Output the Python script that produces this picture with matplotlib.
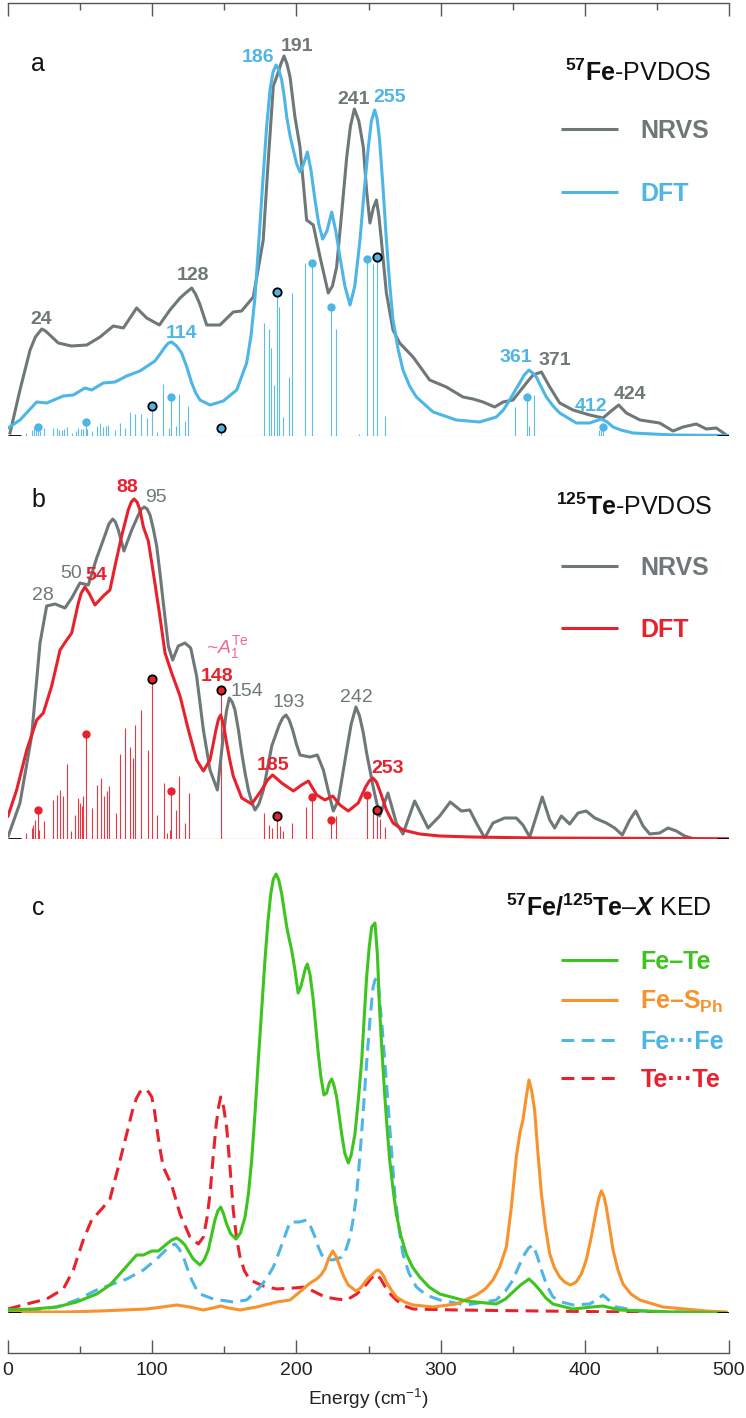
import matplotlib
matplotlib.use("Agg")
import matplotlib.pyplot as plt
from matplotlib.ticker import MultipleLocator

plt.rcParams["font.family"] = ["Liberation Sans", "DejaVu Sans"]
plt.rcParams["mathtext.fontset"] = "custom"
plt.rcParams["mathtext.rm"] = "Liberation Sans"
plt.rcParams["mathtext.it"] = "Liberation Sans:italic"
plt.rcParams["mathtext.bf"] = "Liberation Sans:bold"
plt.rcParams["mathtext.bfit"] = "Liberation Sans:bold:italic"

GRAY, BLUE, RED = "#6e7878", "#4db6e7", "#e8222d"
GREEN, ORANGE, PINK = "#3dc41f", "#f7922c", "#f06a95"
AXC = "#555555"

# ---------------- data: (energy cm-1, intensity a.u.) ----------------
# panel a : 57Fe PVDOS
nrvs_fe = [(1.4, 3), (8.3, 46), (15.3, 86), (19, 99), (23.4, 107), (26, 105), (29, 101), (34.9, 93),
           (44, 90), (54.6, 91), (63.8, 99), (73, 110), (80, 108), (89.2, 128), (96.2, 118),
           (105, 111), (112.3, 126), (119.3, 138), (124, 144), (127.4, 148), (130, 142), (133, 132),
           (137.8, 111), (147, 111), (156.2, 124), (162, 125), (170.1, 139), (177, 196), (180, 265),
           (184, 350), (187, 362), (189.2, 372), (191.4, 380), (193.5, 372), (195.6, 359), (199, 319),
           (202.5, 289), (207.1, 216), (211.7, 211), (216.4, 179), (222.1, 143), (225, 150),
           (227.9, 169), (231.4, 223), (234.9, 279), (237.5, 310), (240.2, 327), (243.3, 315),
           (246.4, 289), (248.7, 245), (251, 213), (253.3, 228), (255.5, 236), (257.2, 220),
           (258.9, 196), (262.4, 143), (267, 106), (271.6, 93), (280.9, 79), (292.4, 56), (304, 49),
           (315.5, 39), (322.5, 37), (329.4, 34), (337.5, 29), (343.3, 34), (350.2, 36), (359.5, 53),
           (364.1, 61), (369.9, 64), (375.7, 49), (382.6, 33), (391.8, 26), (403.4, 21), (412.6, 18),
           (418.3, 25), (423.5, 31), (428.8, 23), (438.3, 16), (451.9, 13), (461.2, 5), (468.1, 9),
           (477.3, 12), (484.3, 7), (491.2, 8), (498.1, 1)]
dft_fe = [(0, 8), (8.3, 16), (19.9, 34), (26.8, 33), (38.4, 40), (45.3, 41), (53.4, 48), (58, 46),
          (66.1, 53), (74.2, 54), (82.3, 60), (91.5, 65), (101.9, 75), (105.5, 82), (108.9, 89),
          (111.2, 93), (113.5, 94), (116.9, 90), (120.4, 83), (124, 69), (127.4, 53), (130.2, 43),
          (133.1, 36), (140.1, 31), (149.3, 35), (158.6, 46), (165.5, 73), (168.5, 100), (171.3, 139),
          (174.2, 200), (177.1, 263), (179.4, 310), (181.7, 346), (183.8, 364), (185.9, 371),
          (187.8, 366), (189.8, 356), (191.5, 340), (193.3, 319), (195.6, 300), (197.9, 286),
          (200.2, 272), (202.5, 264), (205, 272), (207.6, 284), (210.2, 265), (212.9, 236),
          (215.5, 212), (218.2, 197), (221.2, 205), (224.5, 224), (227.3, 205), (230.2, 179),
          (233.6, 150), (237.2, 131), (240.5, 150), (244.1, 196), (247, 245), (249.9, 289),
          (252, 315), (254.3, 326), (256, 317), (257.7, 296), (260, 250), (262.4, 196), (264.7, 152),
          (267, 116), (270.5, 87), (273.9, 66), (278.5, 50), (283.2, 39), (294.8, 24), (310.9, 16),
          (327.1, 14), (338.6, 19), (343.5, 26), (347.9, 36), (351.5, 45), (354.8, 53), (358, 61),
          (361.3, 66), (363.8, 63), (366.4, 59), (369.8, 49), (373.3, 39), (378, 30), (382.6, 23),
          (394.1, 13), (403.4, 13), (407.5, 15), (411.5, 17), (415.5, 14), (419.6, 9), (425, 6),
          (433.4, 3), (461, 1), (500, 0.5)]
fe_sticks = [(12.5, 3), (16.4, 6), (18.0, 9), (19.4, 6), (22.2, 5), (25, 8), (31.4, 8), (33.8, 8),
             (35.6, 6), (37.2, 6), (38.8, 7), (40.7, 9), (44.2, 3), (47.2, 5), (48.8, 8), (50.4, 7),
             (51.8, 7), (55, 7), (58, 5), (62, 10), (63.8, 13), (66.1, 9), (67.9, 10), (69.6, 11),
             (74.2, 6), (77.7, 13), (81.1, 8), (84.6, 24), (88.1, 22), (92, 22), (96.6, 18),
             (103.1, 4), (107.7, 52), (111.7, 8), (116.3, 10), (118.8, 42), (122.8, 15), (125.1, 30),
             (177.5, 113), (181.2, 107), (182.4, 88), (184.7, 51), (188.2, 129), (190.5, 19),
             (195.1, 59), (196.7, 143), (205.9, 173), (227.5, 107), (243.6, 2), (253.1, 172),
             (261.2, 20), (351.4, 29), (361, 10), (364.8, 41), (409.6, 6), (411, 6)]
fe_dots = [(20.6, 9.3), (53.9, 13.7), (113.3, 38.7), (210.8, 173), (224, 128.7), (248.7, 177),
           (359.9, 39.3), (412.6, 9.3)]
fe_rings = [(99.9, 30.3), (147.7, 7.7), (186.3, 144.3), (256, 179)]

# panel b : 125Te PVDOS
nrvs_te = [(0.2, 3), (8.3, 36), (16.4, 103), (22.2, 196), (26.8, 233), (32.6, 235), (39.5, 231),
           (44.2, 241), (49.9, 256), (55.7, 254), (61.5, 281), (67.3, 304), (70, 315), (72.6, 320),
           (74.5, 317), (76.5, 309), (80.4, 288), (85.8, 309), (90.4, 324), (92.5, 330), (94.5, 332),
           (96.5, 330), (98.5, 324), (100.8, 310), (103.1, 293), (105.4, 266), (107.7, 236),
           (111.2, 193), (114.2, 179), (118.1, 193), (122.7, 196), (126.7, 191), (130.8, 163),
           (135.5, 109), (140.1, 69), (145.2, 49), (149.3, 103), (151.5, 128), (153.5, 141),
           (155.5, 137), (157.4, 129), (159.8, 109), (162.1, 86), (164.4, 66), (166.7, 49), (169, 37),
           (171.3, 29), (174, 35), (177.1, 49), (182.9, 93), (188.1, 114), (190.5, 121), (192.8, 124),
           (195, 119), (197.4, 109), (200, 95), (202.5, 84), (209.4, 82), (214.5, 84), (218.7, 69),
           (223.3, 41), (225.6, 28), (229.1, 39), (234.9, 89), (238, 115), (241.3, 132), (243.8, 123),
           (246.4, 106), (248.7, 86), (251, 69), (253.1, 53), (257.7, 23), (263.5, 46), (269.3, 16),
           (273.9, 5), (282, 38), (291.3, 11), (299.4, 23), (306.7, 37), (314.4, 28), (320.2, 29),
           (324.8, 16), (330.6, 1), (336.3, 16), (344.4, 21), (352.5, 21), (357.1, 14), (361.8, 2),
           (366.4, 23), (370.5, 42), (375.7, 19), (379.1, 11), (383.7, 23), (389.5, 15), (395.3, 26),
           (401, 28), (406.9, 21), (414.9, 16), (420.7, 11), (426, 4), (431.1, 19), (435.3, 28),
           (440.4, 13), (445, 5), (451.9, 6), (457.7, 11), (463.5, 8), (469.2, 3), (476, 0)]
dft_te = [(0, 23), (6, 49), (13, 89), (19.9, 119), (24.5, 126), (30.3, 153), (36.1, 189), (40.7, 199),
          (44.2, 206), (48.8, 236), (50.8, 246), (53.4, 252), (56.5, 245), (60.3, 234), (66.1, 243),
          (70.7, 249), (74.2, 273), (78.8, 303), (83.4, 329), (85.5, 337), (87.4, 340), (89.5, 337),
          (91.5, 329), (93.9, 312), (97.3, 298), (100.8, 266), (105, 226), (108.9, 186), (113.5, 166),
          (119.3, 143), (125.1, 109), (130.8, 79), (135.5, 68), (140.1, 79), (142.3, 95), (144.2, 109),
          (146, 120), (147.5, 124), (149.5, 114), (151.6, 96), (153.8, 79), (156.2, 63), (162.1, 41),
          (169, 35), (175.9, 49), (180, 59), (183.5, 64), (189.8, 56), (197.9, 48), (203.6, 54),
          (208.3, 58), (214.1, 44), (219.8, 39), (225.2, 43), (230.2, 34), (236, 28), (242.9, 36),
          (248, 52), (250.5, 58), (253.1, 61), (255.5, 57), (257.7, 49), (262.4, 29), (267, 16),
          (273.9, 9), (285.5, 5), (299.4, 3), (322, 2), (367, 1), (500, 0.3)]
te_sticks = [(12.5, 6), (16.4, 11), (17.6, 14), (18.7, 19), (21.7, 9), (25.2, 18), (31.4, 39),
             (34.2, 44), (36.1, 49), (38.4, 43), (40.7, 75), (43.7, 8), (46.5, 24), (48.3, 41),
             (49.9, 36), (51.1, 33), (52.3, 43), (58, 31), (62, 54), (64.3, 61), (66.6, 43), (68.4, 48),
             (70.1, 53), (74.9, 26), (77.7, 85), (81.4, 111), (84.6, 92), (86.5, 81), (88.3, 114),
             (92, 129), (96.9, 89), (103.1, 24), (108.2, 56), (110, 6), (112.4, 9), (116.3, 29),
             (118.8, 63), (122.8, 16), (125.3, 46), (177.8, 26), (181.2, 14), (182.9, 11), (188.6, 13),
             (190.5, 8), (196.7, 16), (206.7, 32), (227.2, 23), (253.1, 28), (258, 20), (261.2, 12)]
te_dots = [(20.6, 29), (53.9, 105), (113.3, 48), (210.8, 42), (224, 19), (248.7, 44)]
te_rings = [(100.1, 160), (147.5, 149), (186.3, 23), (256, 29)]

# panel c : kinetic energy distributions
ked_fete = [(0, 3), (17.6, 4), (33.8, 6), (47.6, 11), (61.5, 19), (70.7, 28), (80, 43), (89.2, 58),
            (93.9, 58), (99.7, 62), (104.3, 62), (110.1, 69), (113.5, 73), (117, 75), (120, 72),
            (122.7, 68), (125.5, 61), (128.5, 54), (133.1, 48), (136, 53), (138.9, 63), (141.2, 78),
            (143.5, 93), (145.5, 102), (147.5, 106), (149.5, 99), (151.6, 89), (154.5, 79), (158.1, 74),
            (161.2, 80), (164.4, 96), (166.8, 120), (169, 153), (171.3, 200), (173.6, 253), (176, 305),
            (178.2, 353), (180.3, 392), (182.2, 419), (184, 434), (185.9, 439), (187.8, 433),
            (189.8, 419), (191.5, 403), (193.3, 386), (195, 374), (196.7, 363), (199, 343), (201.2, 320),
            (203, 326), (204.8, 336), (206.3, 345), (207.6, 349), (209.5, 338), (211.7, 313),
            (213.5, 285), (215.2, 259), (217, 236), (219.1, 218), (221, 220), (222.8, 230), (224.5, 234),
            (226, 228), (227.9, 216), (229.6, 198), (231.4, 179), (233.5, 160), (236, 150), (238, 158),
            (240.6, 179), (243, 214), (245.3, 253), (247, 295), (248.7, 336), (250.5, 366), (252.2, 386),
            (254.5, 390), (256.2, 358), (257.7, 303), (259.5, 258), (261.2, 219), (263, 183),
            (264.7, 153), (267, 124), (269.3, 99), (272.5, 77), (276.2, 59), (280.5, 46), (285.5, 36),
            (292, 26), (299.4, 19), (317.8, 12), (338.6, 9), (345, 14), (350.2, 21), (355.5, 28),
            (361.3, 34), (365, 29), (368.7, 23), (373, 15), (377.9, 9), (391.8, 4), (405, 6),
            (412.6, 7), (424.2, 3), (461, 1), (498, 0)]
ked_fesph = [(0, 1), (40.7, 1), (63.8, 2), (96.2, 4), (107, 6), (117, 8), (126, 6), (135.5, 3),
             (142, 5), (147.5, 7), (153, 5), (160.9, 3), (172.5, 6), (186.3, 11), (195.6, 13),
             (204.8, 24), (209.5, 30), (214.1, 34), (217, 38), (219.8, 44), (222.5, 55), (225.2, 62),
             (227.7, 56), (230.2, 46), (233, 36), (236, 28), (241.3, 22), (244.5, 25), (247.6, 31),
             (250.5, 36), (253.1, 39), (255, 42), (256.6, 43), (258.5, 41), (260.5, 37), (262.4, 31),
             (265.8, 23), (269.3, 16), (275, 11), (280.9, 8), (294.8, 6), (310.9, 9), (324.8, 18),
             (331, 24), (336.3, 33), (341, 46), (345.6, 66), (349, 105), (352.5, 156), (355, 180),
             (357.1, 193), (359.3, 215), (361.3, 233), (363.2, 222), (365.2, 203), (367.5, 160),
             (369.9, 119), (372.8, 85), (375.7, 59), (379, 45), (382.6, 36), (386, 31), (390, 28),
             (394, 31), (397.6, 39), (401, 53), (404.5, 76), (406.3, 90), (408, 103), (409.8, 115),
             (411.5, 122), (413.2, 117), (414.9, 106), (417.2, 85), (419.6, 63), (423, 43), (426.5, 29),
             (432, 19), (438.1, 13), (454.2, 6), (484.3, 2), (498, 1)]
ked_fefe = [(0, 3), (17.6, 3), (33.8, 6), (47.6, 13), (61.5, 23), (70.7, 28), (82.3, 34), (93.9, 43),
            (103.1, 54), (110.1, 64), (113, 67), (115.8, 69), (118.7, 64), (121.6, 56), (124.5, 44),
            (127.4, 33), (130.2, 25), (133.1, 19), (142.4, 14), (156.2, 11), (165.5, 13), (174.8, 26),
            (180, 36), (184, 46), (187.5, 59), (191, 73), (195.6, 91), (202, 91), (207.1, 93),
            (210, 86), (212.9, 76), (215.2, 66), (217.6, 58), (221, 54), (224.5, 53), (228, 54),
            (231.4, 56), (234.5, 64), (237.2, 76), (239.5, 95), (241.8, 119), (244.1, 158),
            (246.4, 203), (248.7, 250), (251, 293), (253.1, 325), (254.5, 333), (255.8, 335),
            (257, 325), (257.7, 313), (259.5, 285), (261.2, 253), (263, 220), (264.7, 186),
            (266.5, 152), (268.2, 119), (271, 86), (273.9, 59), (278, 40), (283.2, 26), (290, 18),
            (299.4, 13), (317.8, 8), (338.6, 13), (345, 22), (350.2, 33), (354, 46), (358.3, 59),
            (361, 65), (364.1, 68), (367, 57), (369.9, 43), (373.5, 28), (377.9, 16), (384, 11),
            (391.8, 8), (403.4, 9), (408, 13), (412.6, 18), (416.5, 13), (421.8, 6), (438, 2), (498, 0)]
ked_tete = [(0, 4), (13, 9), (26.8, 14), (38.4, 24), (45.3, 43), (52.2, 73), (58, 93), (65, 104),
            (70.7, 114), (76.5, 146), (82.3, 179), (86.9, 206), (89.2, 215), (91.5, 221), (94, 224),
            (96.2, 223), (98, 220), (99.7, 216), (101.5, 203), (103.1, 186), (105.4, 164), (107.7, 146),
            (113.5, 128), (119.3, 99), (126.2, 76), (132, 69), (135.5, 76), (138, 95), (140.1, 119),
            (142.2, 155), (144.2, 186), (145.9, 205), (147.5, 216), (149.5, 206), (151.6, 186),
            (154, 145), (156.2, 103), (158.5, 75), (160.9, 56), (164, 42), (167.8, 33), (177.1, 27),
            (186.3, 24), (197.9, 25), (205.9, 26), (212.9, 21), (219.8, 16), (227.9, 14), (234.9, 13),
            (241.8, 19), (245.5, 24), (248.7, 29), (252, 35), (255.4, 39), (258.5, 34), (262.4, 24),
            (265.8, 18), (269.3, 13), (275, 7), (280.9, 4), (311, 3), (368, 2), (498, 0)]

# peak labels: text, energy, height (baseline), colour
labels_a = [("24", 23.3, 112, GRAY), ("128", 128.5, 156, GRAY), ("114", 120.4, 98, BLUE),
            ("186", 173.6, 374, BLUE), ("191", 200.5, 385, GRAY), ("241", 239.5, 332, GRAY),
            ("255", 264.5, 334, BLUE), ("361", 352.5, 74, BLUE), ("371", 379.1, 71, GRAY),
            ("412", 404.5, 25, BLUE), ("424", 431.1, 37, GRAY)]
labels_b = [("28", 24.5, 239, GRAY), ("50", 43.5, 261, GRAY), ("54", 61, 259, RED),
            ("88", 83, 347, RED), ("95", 102.6, 337, GRAY), ("148", 144.7, 158, RED),
            ("154", 166, 143, GRAY), ("193", 194.4, 132, GRAY), ("242", 241.8, 137, GRAY),
            ("185", 184, 69, RED), ("253", 263.5, 66, RED)]


def xy(pairs):
    return [p[0] for p in pairs], [p[1] for p in pairs]


# ---------------- figure ----------------
W, H = 746.0, 1418.0
fig = plt.figure(figsize=(W / 100, H / 100), dpi=100)
LW = 2.2
DASH = (0, (4.2, 2.4))


def panel(top, bottom):
    ax = fig.add_axes([8 / W, 1 - bottom / H, 721 / W, (bottom - top) / H])
    ax.set_xlim(0, 500)
    ax.set_ylim(0, bottom - top)
    for s in ax.spines.values():
        s.set_visible(False)
    ax.set_yticks([])
    ax.xaxis.set_major_locator(MultipleLocator(100))
    ax.xaxis.set_minor_locator(MultipleLocator(50))
    ax.tick_params(axis="x", which="both", bottom=False, top=False, labelbottom=False,
                   direction="in", color=AXC, width=1.0)
    ax.tick_params(axis="x", which="major", length=9.4)
    ax.tick_params(axis="x", which="minor", length=5)
    ax.patch.set_alpha(0)
    return ax


def baseline(ax, color=None):
    if color is not None:
        ax.hlines(0, 0, 500, color=color, lw=0.8, zorder=1)
    ax.hlines(0, 0, 9, color="black", lw=2, zorder=6)
    ax.hlines(0, 492, 500, color="black", lw=2, zorder=6)


def sticks(ax, st, dots, rings, color):
    sE, sI = xy(st)
    dE, dI = xy(dots)
    rE, rI = xy(rings)
    ax.vlines(sE, 0, sI, color=color, lw=0.8, alpha=0.9, zorder=1)
    ax.vlines(dE + rE, 0, dI + rI, color=color, lw=0.8, alpha=0.9, zorder=1)
    ax.plot(dE, dI, "o", ms=5, color=color, mec=color, zorder=4, ls="none")
    ax.plot(rE, rI, "o", ms=6, mfc=color, mec="black", mew=1.3, zorder=4, ls="none")


def legend(ax, title, title_h, rows):
    ax.text(488, title_h, title, ha="right", va="baseline", fontsize=18, color="#111111")
    for text, h, color, ls in rows:
        ax.plot([383.5, 423], [h, h], color=color, lw=LW, ls=ls, solid_capstyle="butt")
        ax.text(438.5, h - 9, text, ha="left", va="baseline", fontsize=18,
                fontweight="bold", color=color)


def peak_labels(ax, items, bold_colors):
    for text, e, h, color in items:
        ax.text(e, h, text, ha="center", va="baseline", fontsize=14, color=color,
                fontweight="bold" if color in bold_colors else "normal")


# panel a
ax_a = panel(3, 436)
ax_a.spines["top"].set_visible(True)
ax_a.spines["top"].set_color(AXC)
ax_a.spines["top"].set_linewidth(1.0)
ax_a.tick_params(axis="x", which="both", top=True)
baseline(ax_a, BLUE)
sticks(ax_a, fe_sticks, fe_dots, fe_rings, BLUE)
ax_a.plot(*xy(nrvs_fe), color=GRAY, lw=LW, zorder=2)
ax_a.plot(*xy(dft_fe), color=BLUE, lw=LW, zorder=3)
peak_labels(ax_a, labels_a, (GRAY, BLUE))
ax_a.text(21, 365, "a", ha="center", va="baseline", fontsize=18, color="#111111")
legend(ax_a, r"$^{\mathbf{57}}\mathbf{Fe}$-PVDOS", 355,
       [("NRVS", 307, GRAY, "-"), ("DFT", 244, BLUE, "-")])

# panel b
ax_b = panel(460, 839)
baseline(ax_b, RED)
sticks(ax_b, te_sticks, te_dots, te_rings, RED)
ax_b.plot(*xy(nrvs_te), color=GRAY, lw=LW, zorder=2)
ax_b.plot(*xy(dft_te), color=RED, lw=LW, zorder=3)
peak_labels(ax_b, labels_b, (RED,))
ax_b.text(137.5, 186, r"~$\mathit{A}_{1}^{\mathrm{Te}}$", ha="left", va="baseline",
          fontsize=14, color=PINK)
ax_b.text(21, 332, "b", ha="center", va="baseline", fontsize=18, color="#111111")
legend(ax_b, r"$^{\mathbf{125}}\mathbf{Te}$-PVDOS", 324,
       [("NRVS", 273, GRAY, "-"), ("DFT", 211, RED, "-")])

# panel c
ax_c = panel(850, 1313)
baseline(ax_c)
ax_c.plot(*xy(ked_tete), color=RED, lw=LW, ls=DASH, zorder=2)
ax_c.plot(*xy(ked_fefe), color=BLUE, lw=LW, ls=DASH, zorder=3)
ax_c.plot(*xy(ked_fesph), color=ORANGE, lw=LW, zorder=4)
ax_c.plot(*xy(ked_fete), color=GREEN, lw=LW, zorder=5)
ax_c.text(21, 398, "c", ha="center", va="baseline", fontsize=18, color="#111111")
legend(ax_c, r"$^{\mathbf{57}}\mathbf{Fe/}^{\mathbf{125}}\mathbf{Te}$–$\mathbfit{X}$ KED", 398,
       [("Fe–Te", 353, GREEN, "-"), (r"Fe–S$_{\mathbf{Ph}}$", 313, ORANGE, "-"),
        ("Fe···Fe", 273, BLUE, DASH), ("Te···Te", 235, RED, DASH)])
ax_c.spines["bottom"].set_visible(True)
ax_c.spines["bottom"].set_position(("outward", 28.8))
ax_c.spines["bottom"].set_color(AXC)
ax_c.spines["bottom"].set_linewidth(1.0)
ax_c.tick_params(axis="x", which="both", bottom=True, labelbottom=True, pad=6.5,
                 labelsize=14, labelcolor="#222222")
ax_c.set_xlabel("Energy (cm$^{-1}$)", fontsize=13.8, labelpad=6, color="#222222")

fig.savefig("out.png", dpi=100)
